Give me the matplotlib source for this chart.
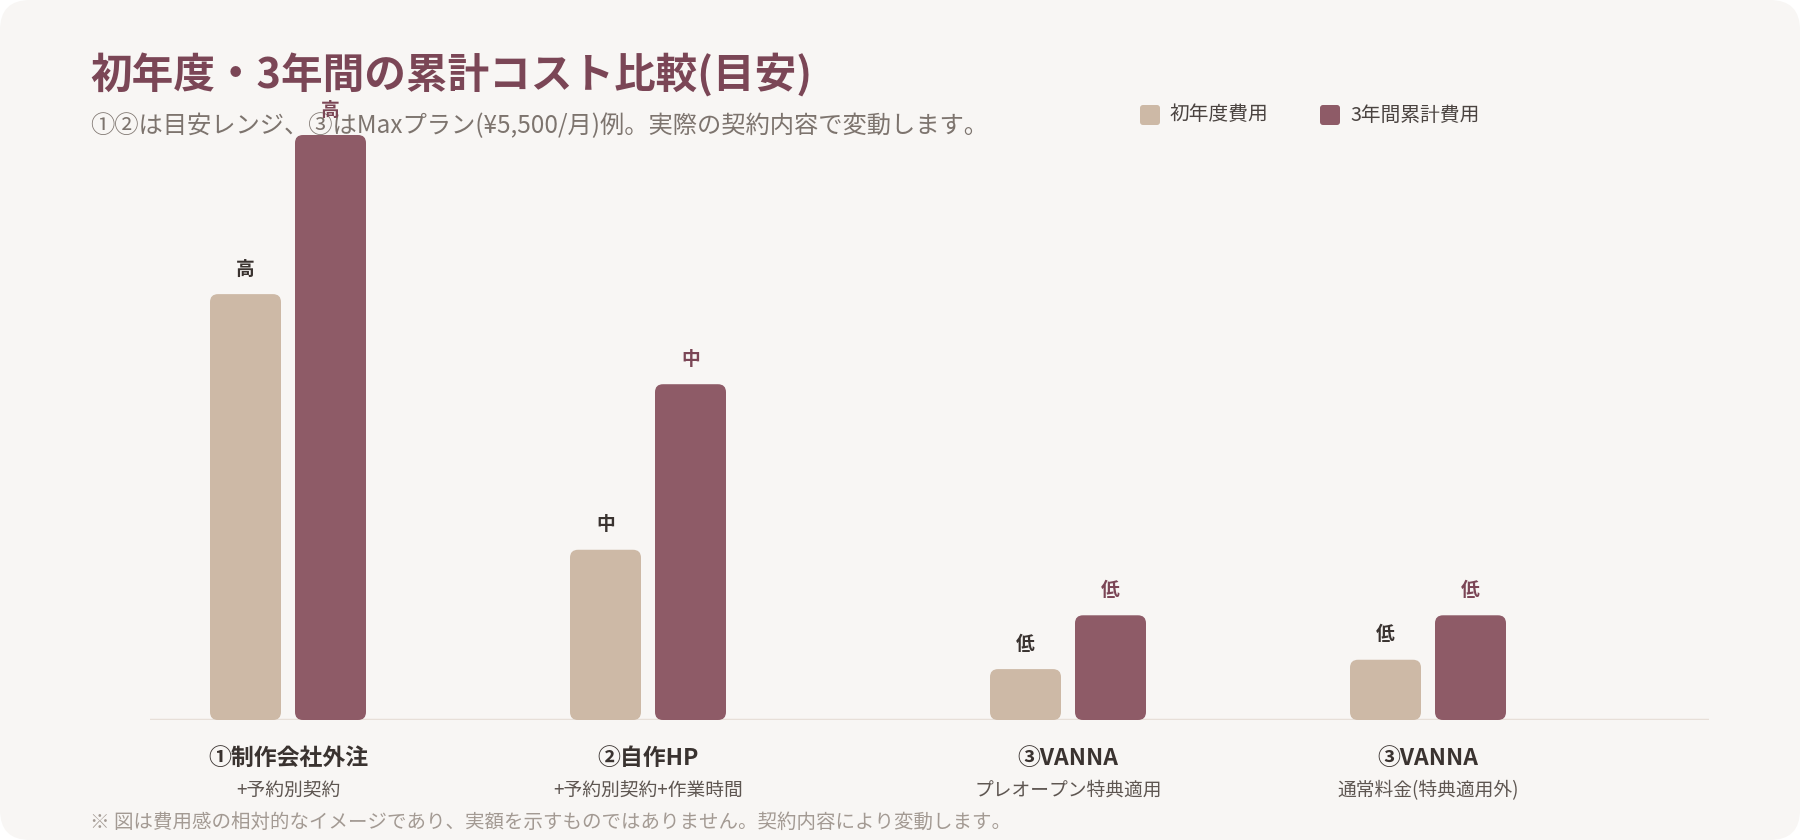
import matplotlib.pyplot as plt
from matplotlib.patches import FancyBboxPatch

plt.rcParams['font.family'] = ['Noto Sans CJK JP', 'DejaVu Sans']

# data (relative cost index)
categories = ['①制作会社外注', '②自作HP', '③VANNA', '③VANNA']
sub_labels = ['+予約別契約', '+予約別契約+作業時間', 'プレオープン特典適用', '通常料金(特典適用外)']
first_year = [72.8, 29.1, 8.7, 10.3]
three_year = [100, 57.4, 17.9, 17.9]
first_lbl = ['高', '中', '低', '低']
three_lbl = ['高', '中', '低', '低']
series_names = ['初年度費用', '3年間累計費用']

# layout
x_pos = [0, 1, 2 + 1/6, 3 + 1/6]
c_beige = '#cdb9a6'
c_maroon = '#8e5b67'
c_dark = '#3a3330'

W, H = 1800, 840
fig = plt.figure(figsize=(18, 8.4), dpi=100)
fig.patch.set_facecolor('white')

# card background
card = FancyBboxPatch((0, 0), 1, 1, boxstyle='round,pad=0,rounding_size=%f' % (30 / W),
                      mutation_aspect=W / H, transform=fig.transFigure,
                      facecolor='#f8f6f4', edgecolor='none', zorder=0)
fig.patches.append(card)

ax_l, ax_w = 150 / W, 1559 / W
ax_b, ax_h = 120 / H, 585 / H
ax = fig.add_axes([ax_l, ax_b, ax_w, ax_h])
ax.set_zorder(2)
ax.patch.set_alpha(0)
xmin = -138 / 360
xmax = 3 + 1/6 + 281 / 360
ax.set_xlim(xmin, xmax)
ax.set_ylim(0, 100)
for s in ax.spines.values():
    s.set_visible(False)
ax.set_xticks([])
ax.set_yticks([])

px_x = ax_w * W / (xmax - xmin)   # pixels per x unit
px_y = ax_h * H / 100.0           # pixels per y unit
bw = 71 / px_x
off = 42.5 / px_x
r = 8 / px_x
asp = px_x / px_y

ax.axhline(0, color='#e7dfd8', lw=2.5, zorder=1)

def rbar(xc, h, color):
    p = FancyBboxPatch((xc - bw / 2, 0), bw, h,
                       boxstyle='round,pad=0,rounding_size=%f' % r,
                       mutation_aspect=asp, facecolor=color, edgecolor='none', zorder=2)
    ax.add_patch(p)

for i, x in enumerate(x_pos):
    rbar(x - off, first_year[i], c_beige)
    rbar(x + off, three_year[i], c_maroon)
    ax.annotate(first_lbl[i], (x - off, first_year[i]), xytext=(0, 18), textcoords='offset points',
                ha='center', va='center', fontsize=13.5, fontweight='bold', color=c_dark,
                annotation_clip=False)
    ax.annotate(three_lbl[i], (x + off, three_year[i]), xytext=(0, 18), textcoords='offset points',
                ha='center', va='center', fontsize=13.5, fontweight='bold', color='#7b4656',
                annotation_clip=False)
    ax.annotate(categories[i], (x, 0), xytext=(0, -28), textcoords='offset points',
                ha='center', va='center', fontsize=16.5, fontweight='bold', color=c_dark,
                annotation_clip=False)
    ax.annotate(sub_labels[i], (x, 0), xytext=(0, -50.5), textcoords='offset points',
                ha='center', va='center', fontsize=13.5, color='#5e5651',
                annotation_clip=False)

# title / subtitle
fig.text(90 / W, 1 - 76 / H, '初年度・3年間の累計コスト比較(目安)', fontsize=30, fontweight='bold',
         color='#7b4656', ha='left', va='center', zorder=1)
fig.text(90 / W, 1 - 126 / H, '①②は目安レンジ、③はMaxプラン(¥5,500/月)例。実際の契約内容で変動します。',
         fontsize=17.5, color='#7d746e', ha='left', va='center', zorder=1)

# legend
for sx, tx, col, name in [(1140, 1170, c_beige, series_names[0]), (1320, 1350, c_maroon, series_names[1])]:
    sq = FancyBboxPatch((sx / W, 1 - 125 / H), 20 / W, 20 / H,
                        boxstyle='round,pad=0,rounding_size=%f' % (3 / W),
                        mutation_aspect=W / H, transform=fig.transFigure,
                        facecolor=col, edgecolor='none', zorder=1)
    fig.patches.append(sq)
    fig.text(tx / W, 1 - 115 / H, name, fontsize=14.2, color='#4a4340', ha='left', va='center')

# footnote
fig.text(90 / W, 1 - 822 / H, '※ 図は費用感の相対的なイメージであり、実額を示すものではありません。契約内容により変動します。',
         fontsize=14, color='#a39a93', ha='left', va='center')

fig.savefig('out.png', dpi=100, facecolor=fig.get_facecolor())
